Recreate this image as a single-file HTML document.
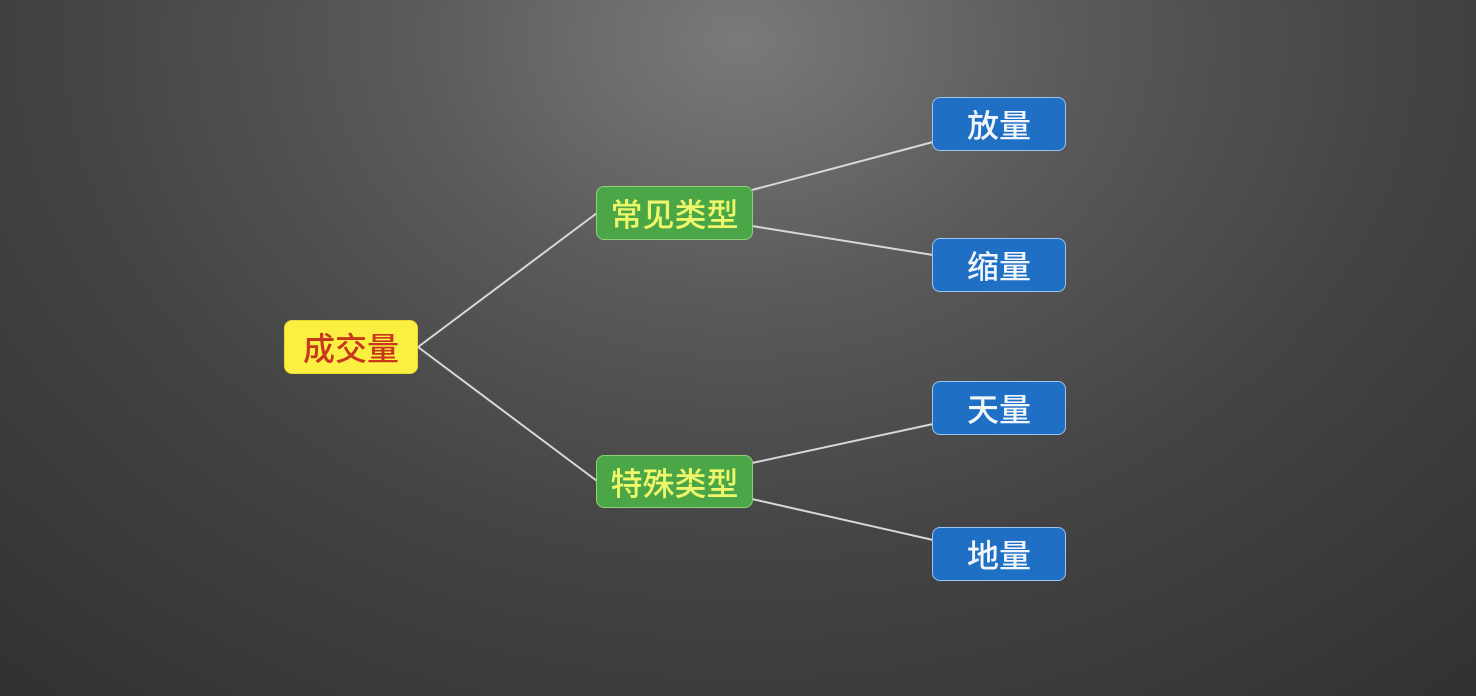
<!DOCTYPE html>
<html><head><meta charset="utf-8"><style>
html,body{margin:0;padding:0}
body{width:1476px;height:696px;position:relative;overflow:hidden;
background:radial-gradient(ellipse 1100px 850px at 740px 40px,#7a7a7a 0%,#5a5a5a 30%,#444 60%,#323232 100%);
font-family:"Liberation Sans","Noto Sans CJK SC",sans-serif;}
.n{position:absolute;box-sizing:border-box;border-radius:8px;display:flex;align-items:center;justify-content:center;font-size:32px;font-weight:500;}
.r{background:#fbf042;border:1px solid #e8d830;color:#c8361c;}
.g{background:#4aa647;border:1px solid #8fd07a;color:#eef76a;}
.b{background:#1f6fc4;border:1px solid #9cc4ee;color:#f2f6fb;}
svg{position:absolute;left:0;top:0}
</style></head><body>
<svg width="1476" height="696"><g stroke="#d8d8d8" stroke-width="2" fill="none">
<line x1="418" y1="347" x2="597" y2="213"/>
<line x1="418" y1="347" x2="597" y2="481"/>
<line x1="752" y1="190" x2="933" y2="142"/>
<line x1="752" y1="226" x2="933" y2="255"/>
<line x1="752" y1="463" x2="933" y2="424"/>
<line x1="752" y1="499" x2="933" y2="540"/>
</g></svg>
<div class="n r" style="left:284px;top:320px;width:134px;height:54px">成交量</div>
<div class="n g" style="left:596px;top:186px;width:157px;height:54px">常见类型</div>
<div class="n g" style="left:596px;top:455px;width:157px;height:53px">特殊类型</div>
<div class="n b" style="left:932px;top:97px;width:134px;height:54px">放量</div>
<div class="n b" style="left:932px;top:238px;width:134px;height:54px">缩量</div>
<div class="n b" style="left:932px;top:381px;width:134px;height:54px">天量</div>
<div class="n b" style="left:932px;top:527px;width:134px;height:54px">地量</div>
</body></html>
